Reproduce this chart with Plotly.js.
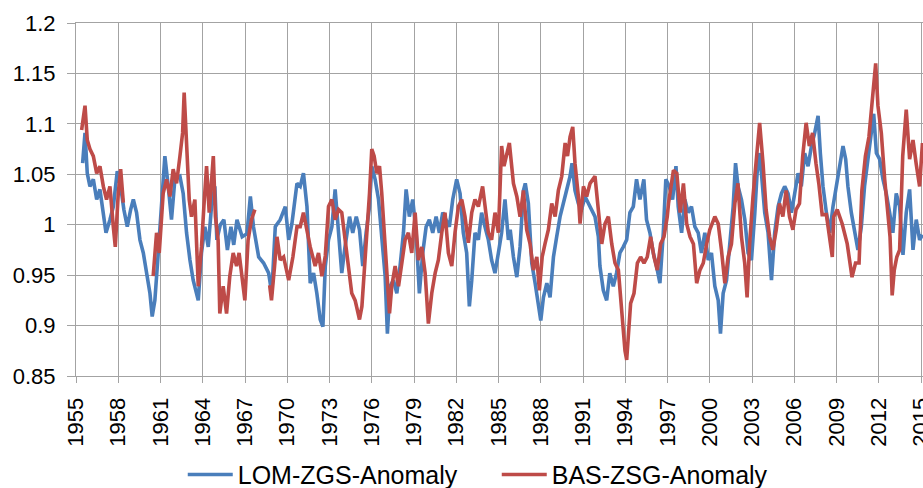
<!DOCTYPE html>
<html>
<head>
<meta charset="utf-8">
<script src="https://cdn.plot.ly/plotly-3.0.1.min.js"></script>
<style>html,body{margin:0;padding:0;background:#fff}#chart{width:923px;height:488px}</style>
</head>
<body>
<div id="chart"></div>
<script>
const lomYears = [1955.47,1955.64,1955.80,1955.99,1956.23,1956.47,1956.70,1956.94,1957.13,1957.41,1957.65,1957.93,1958.17,1958.40,1958.64,1958.88,1959.07,1959.30,1959.54,1959.78,1960.01,1960.25,1960.41,1960.60,1960.84,1961.08,1961.31,1961.55,1961.78,1962.02,1962.38,1962.61,1962.85,1963.09,1963.32,1963.68,1963.91,1964.15,1964.39,1964.62,1964.86,1965.0,1965.25,1965.5,1965.75,1966.0,1966.2,1966.43,1966.8,1967.14,1967.38,1967.6,1967.97,1968.32,1968.68,1968.9,1969.15,1969.5,1969.86,1970.1,1970.33,1970.69,1970.92,1971.15,1971.4,1971.63,1971.87,1972.1,1972.34,1972.53,1972.7,1972.93,1973.17,1973.4,1973.64,1973.87,1974.1,1974.42,1974.65,1974.9,1975.13,1975.36,1975.6,1975.84,1976.0,1976.24,1976.48,1976.71,1976.95,1977.11,1977.3,1977.54,1977.78,1978.01,1978.25,1978.44,1978.67,1978.91,1979.15,1979.38,1979.62,1979.86,1980.09,1980.33,1980.57,1980.8,1981.04,1981.27,1981.51,1981.75,1982.03,1982.27,1982.5,1982.74,1982.93,1983.1,1983.33,1983.57,1983.8,1984.04,1984.28,1984.51,1984.75,1984.99,1985.22,1985.46,1985.7,1985.83,1986.06,1986.3,1986.53,1986.77,1986.9,1987.12,1987.36,1987.6,1987.83,1988.0,1988.19,1988.43,1988.66,1988.9,1989.13,1989.37,1989.6,1989.84,1990.08,1990.22,1990.43,1990.67,1990.9,1991.14,1991.38,1991.62,1991.85,1992.09,1992.2,1992.44,1992.68,1992.9,1993.15,1993.38,1993.62,1993.86,1994.1,1994.33,1994.57,1994.8,1995.04,1995.32,1995.51,1995.75,1995.99,1996.22,1996.46,1996.7,1996.88,1997.12,1997.36,1997.6,1997.76,1998.0,1998.23,1998.47,1998.7,1998.94,1999.18,1999.41,1999.65,1999.89,2000.12,2000.36,2000.6,2000.76,2000.95,2001.19,2001.42,2001.66,2001.83,2002.01,2002.25,2002.49,2002.72,2002.96,2003.2,2003.36,2003.55,2003.74,2003.9,2004.14,2004.38,2004.61,2004.85,2005.09,2005.32,2005.56,2005.8,2006.03,2006.27,2006.5,2006.74,2006.98,2007.22,2007.45,2007.69,2007.85,2008.04,2008.28,2008.52,2008.75,2008.99,2009.22,2009.46,2009.65,2009.81,2010.05,2010.29,2010.52,2010.76,2010.99,2011.23,2011.47,2011.64,2011.83,2012.06,2012.3,2012.53,2012.77,2013.0,2013.24,2013.48,2013.72,2013.95,2014.19,2014.43,2014.66,2014.9,2015.1];
const lomValues = [1.061,1.091,1.051,1.038,1.045,1.025,1.035,1.012,0.992,1.005,1.018,1.053,1.038,1.015,0.998,1.015,1.025,1.012,0.985,0.972,0.952,0.932,0.909,0.925,0.972,1.018,1.068,1.038,1.005,1.045,1.048,1.031,0.992,0.965,0.945,0.925,0.972,0.998,0.978,1.018,1.038,0.985,1.0,1.005,0.975,0.998,0.98,1.005,0.988,0.991,1.028,0.998,0.968,0.962,0.952,0.932,0.998,1.005,1.018,0.985,1.001,1.041,1.038,1.051,1.018,0.942,0.952,0.932,0.906,0.899,0.959,0.985,0.998,1.035,0.992,0.952,0.978,1.008,0.992,1.008,0.995,0.959,0.992,1.018,1.058,1.045,1.025,0.985,0.949,0.892,0.939,0.945,0.932,0.959,0.992,1.035,1.008,1.025,0.992,0.932,0.972,0.998,1.005,0.992,1.008,0.992,1.012,1.005,0.998,1.025,1.045,1.031,0.992,0.972,0.919,0.945,0.992,0.985,1.012,0.998,0.985,0.965,0.952,0.972,0.992,1.025,0.985,0.995,0.968,0.948,0.978,1.034,1.041,1.021,0.962,0.942,0.922,0.905,0.928,0.942,0.928,0.968,0.988,1.008,1.021,1.034,1.048,1.061,1.034,1.021,1.015,1.028,1.021,1.015,1.008,0.988,0.959,0.935,0.925,0.952,0.939,0.952,0.972,0.978,0.985,1.012,1.018,1.045,1.025,1.045,1.005,0.992,0.972,0.959,0.942,0.992,1.045,1.038,1.025,1.058,1.018,0.992,1.025,1.012,1.018,0.998,0.992,0.972,0.992,0.965,0.972,0.939,0.925,0.892,0.932,0.945,0.985,1.018,1.061,1.038,1.025,1.005,0.972,0.965,1.012,1.051,1.071,1.038,1.012,0.992,0.945,0.992,1.018,1.031,1.038,1.031,1.012,1.031,1.051,1.038,1.071,1.058,1.078,1.091,1.108,1.071,1.038,1.012,0.992,1.018,1.038,1.058,1.078,1.065,1.038,1.012,0.992,0.975,0.998,1.038,1.065,1.091,1.11,1.071,1.065,1.045,1.031,1.012,0.992,1.031,1.018,0.97,1.012,1.035,0.975,1.005,0.985,0.99];

const basYears = [1955.40,1955.64,1955.80,1955.99,1956.23,1956.47,1956.70,1956.94,1957.17,1957.41,1957.65,1957.79,1958.0,1958.17,1958.36,1958.5,1960.48,1960.72,1960.91,1961.19,1961.43,1961.67,1961.90,1962.14,1962.38,1962.57,1962.68,1962.85,1963.04,1963.20,1963.44,1963.68,1963.91,1964.08,1964.27,1964.46,1964.75,1964.9,1965.09,1965.21,1965.45,1965.69,1965.92,1966.16,1966.40,1966.58,1966.82,1966.99,1967.22,1967.46,1967.70,1968.2,1968.75,1968.88,1969.1,1969.27,1969.5,1969.74,1970.1,1970.4,1970.69,1970.92,1971.15,1971.4,1971.63,1971.98,1972.22,1972.46,1972.7,1972.93,1973.17,1973.4,1973.64,1973.87,1974.1,1974.35,1974.58,1974.82,1975.13,1975.3,1975.46,1975.65,1975.84,1976.0,1976.17,1976.36,1976.55,1976.71,1976.88,1977.07,1977.26,1977.42,1977.66,1977.9,1978.13,1978.37,1978.6,1978.84,1979.08,1979.31,1979.55,1979.79,1980.02,1980.26,1980.5,1980.73,1980.97,1981.2,1981.44,1981.68,1981.91,1982.15,1982.39,1982.62,1982.86,1983.1,1983.33,1983.57,1983.87,1984.04,1984.28,1984.51,1984.75,1984.99,1985.22,1985.39,1985.58,1985.77,1986.06,1986.3,1986.53,1986.77,1987.0,1987.24,1987.48,1987.72,1987.9,1988.1,1988.3,1988.54,1988.78,1989.02,1989.25,1989.49,1989.73,1989.9,1990.08,1990.27,1990.43,1990.67,1990.79,1991.03,1991.26,1991.5,1991.85,1992.09,1992.33,1992.56,1992.8,1993.04,1993.27,1993.51,1993.67,1993.82,1993.98,1994.1,1994.24,1994.38,1994.62,1994.86,1995.09,1995.33,1995.56,1995.8,1996.04,1996.27,1996.51,1996.75,1996.98,1997.07,1997.42,1997.66,1997.9,1998.13,1998.36,1998.6,1998.84,1999.07,1999.3,1999.54,1999.78,2000.0,2000.36,2000.6,2000.83,2001.07,2001.3,2001.54,2001.78,2002.0,2002.25,2002.48,2002.65,2002.83,2003.07,2003.3,2003.54,2003.78,2004.0,2004.25,2004.48,2004.72,2004.95,2005.19,2005.42,2005.66,2005.9,2006.13,2006.37,2006.6,2006.84,2007.07,2007.3,2007.54,2007.75,2007.98,2008.28,2008.7,2008.8,2009.05,2009.4,2009.76,2010.0,2010.1,2010.35,2010.6,2010.8,2011.05,2011.3,2011.5,2011.64,2011.78,2011.94,2012.18,2012.42,2012.65,2012.8,2012.95,2013.1,2013.28,2013.48,2013.7,2013.95,2014.19,2014.43,2014.66,2014.9,2015.1];
const basValues = [1.094,1.118,1.084,1.075,1.068,1.051,1.058,1.038,1.025,1.038,0.998,0.978,1.031,1.055,1.022,null,0.949,0.992,0.972,1.031,1.045,1.028,1.055,1.041,1.068,1.091,1.131,1.084,1.025,1.008,1.025,0.939,0.978,1.018,1.058,1.012,1.068,1.008,0.985,0.912,0.939,0.912,0.949,0.972,0.959,0.972,0.942,0.925,0.985,1.005,1.015,null,0.94,0.925,0.959,0.988,0.965,0.968,0.945,0.968,0.998,0.998,1.012,0.992,0.978,0.959,0.972,0.949,0.969,1.018,1.025,1.005,1.015,1.012,0.985,0.952,0.932,0.925,0.906,0.919,0.949,0.985,1.031,1.075,1.068,1.051,1.058,1.031,0.992,0.945,0.912,0.939,0.959,0.939,0.965,0.985,0.992,0.972,1.012,0.965,0.978,0.952,0.902,0.932,0.952,0.965,0.992,1.012,0.972,0.959,0.992,1.018,1.025,1.008,0.982,1.012,1.025,1.018,1.038,1.018,0.992,0.985,1.012,0.992,1.078,1.058,1.071,1.081,1.041,1.028,1.008,1.034,0.995,0.981,0.955,0.968,0.935,0.968,0.981,0.995,1.021,1.008,1.034,1.048,1.081,1.068,1.087,1.097,1.061,1.028,1.001,1.038,1.028,1.041,1.048,1.015,0.981,1.001,1.008,0.981,0.962,0.955,0.928,0.895,0.875,0.866,0.902,0.922,0.932,0.962,0.968,0.962,0.968,0.988,0.968,0.955,0.981,0.988,1.008,1.021,1.054,1.051,1.012,1.041,1.001,0.988,0.981,0.942,0.955,0.962,0.981,0.995,1.008,1.001,0.975,0.942,0.968,0.981,1.021,1.041,0.988,0.962,0.928,0.981,1.028,1.068,1.101,1.061,1.015,0.988,0.975,0.995,1.021,1.008,1.034,1.008,0.995,1.015,1.021,1.068,1.101,1.078,1.091,1.061,1.04,1.01,1.01,0.968,1.008,1.015,1.001,0.981,0.955,0.948,0.962,0.962,1.034,1.068,1.087,1.12,1.141,1.16,1.118,1.091,1.045,1.012,0.988,0.93,0.955,0.968,0.975,1.068,1.114,1.065,1.084,1.06,1.038,1.081];

const xTickYears = [1955,1958,1961,1964,1967,1970,1973,1976,1979,1982,1985,1988,1991,1994,1997,2000,2003,2006,2009,2012,2015];
const yTickValues = [0.85,0.9,0.95,1,1.05,1.1,1.15,1.2];
const yTickLabels = ['0.85','0.9','0.95','1','1.05','1.1','1.15','1.2'];
const seriesNames = ['LOM-ZGS-Anomaly','BAS-ZSG-Anomaly'];

const font = 'Liberation Sans, Arial, sans-serif';
const grid = '#a3a3a3';

const traces = [
  {x: lomYears, y: lomValues, name: seriesNames[0], type: 'scatter', mode: 'lines',
   line: {color: '#4A7EBB', width: 3.6}},
  {x: basYears, y: basValues, name: seriesNames[1], type: 'scatter', mode: 'lines',
   line: {color: '#BE4B48', width: 3.6}, connectgaps: false}
];

const layout = {
  width: 923, height: 488,
  margin: {l: 76, r: 0, t: 23, b: 112},
  paper_bgcolor: '#fff', plot_bgcolor: '#fff',
  showlegend: true,
  font: {family: font, color: '#000'},
  xaxis: {
    range: [1955, 2015.14], tickvals: xTickYears, ticktext: xTickYears.map(String),
    tickangle: -90, ticks: 'outside', ticklen: 6, tickcolor: grid, tickwidth: 1,
    ticklabeloverflow: 'allow', ticklabelstandoff: 6,
    showgrid: true, gridcolor: grid, gridwidth: 1, zeroline: false,
    showline: true, linecolor: grid, linewidth: 1, mirror: true,
    tickfont: {family: font, size: 22, color: '#000'}
  },
  yaxis: {
    range: [0.85, 1.2], tickvals: yTickValues, ticktext: yTickLabels,
    ticks: 'outside', ticklen: 8, tickcolor: grid, tickwidth: 1,
    ticklabelstandoff: 7,
    showgrid: true, gridcolor: grid, gridwidth: 1, zeroline: false,
    showline: true, linecolor: grid, linewidth: 1, mirror: true,
    tickfont: {family: font, size: 22, color: '#000'}
  },
  legend: {
    orientation: 'h', xref: 'container', yref: 'container',
    x: 0.198, xanchor: 'left', y: 0.027, yanchor: 'middle',
    font: {family: font, size: 25, color: '#000'},
    itemwidth: 45, entrywidth: 254, entrywidthmode: 'pixels',
    tracegroupgap: 0, bgcolor: 'rgba(0,0,0,0)'
  }
};

Plotly.newPlot('chart', traces, layout, {staticPlot: true, displayModeBar: false});
</script>
</body>
</html>
